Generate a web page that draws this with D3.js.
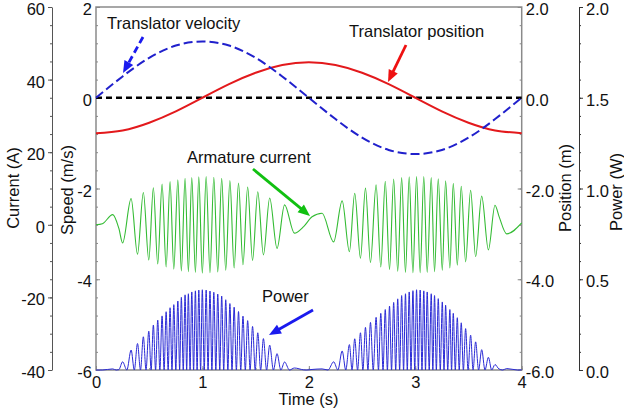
<!DOCTYPE html>
<html>
<head>
<meta charset="utf-8">
<script src="https://cdn.jsdelivr.net/npm/d3@7"></script>
<style>
  body { margin: 0; background: #fff; }
  svg text { font-family: "Liberation Sans", Arial, sans-serif; }
</style>
</head>
<body>
<div class="canvas"></div>
<script>
// ---- data ----
const timeTicks = [0, 1, 2, 3, 4];
const currentTicks = [-40, -20, 0, 20, 40, 60];
const speedTicks = [-6, -4, -2, 0, 2];
const positionTicks = [-6, -4, -2, 0, 2];
const powerTicks = [0, 0.5, 1.0, 1.5, 2.0];

// translator velocity (m/s) and position (m), sampled every 0.25 s
const motionTime = [0, 0.25, 0.5, 0.75, 1, 1.25, 1.5, 1.75, 2, 2.25, 2.5, 2.75, 3, 3.25, 3.5, 3.75, 4];
const velocity = [0, 0.47, 0.88, 1.15, 1.24, 1.15, 0.88, 0.47, 0, -0.47, -0.88, -1.15, -1.24, -1.15, -0.88, -0.47, 0];
const position = [-0.78, -0.72, -0.55, -0.30, 0, 0.30, 0.55, 0.72, 0.78, 0.72, 0.55, 0.30, 0, -0.30, -0.55, -0.72, -0.78];

// armature current (A): turning points of the oscillation
const currentTime = [
  0, 0.06, 0.157, 0.215, 0.25, 0.33, 0.39, 0.445, 0.496, 0.539, 0.58, 0.621, 0.659, 0.696, 0.731, 0.769,
  0.802, 0.837, 0.868, 0.9, 0.934, 0.966, 0.999, 1.035, 1.071, 1.107, 1.144, 1.181, 1.219, 1.258, 1.298,
  1.339, 1.381, 1.425, 1.471, 1.52, 1.573, 1.632, 1.701, 1.772, 1.864, 1.951, 2.03,
  2.124, 2.233, 2.313, 2.381, 2.431, 2.485, 2.532, 2.579, 2.632, 2.676, 2.718, 2.758, 2.797, 2.835, 2.872,
  2.908, 2.943, 2.978, 3.012, 3.046, 3.08, 3.112, 3.15, 3.181, 3.216, 3.254, 3.285, 3.325, 3.357, 3.395,
  3.432, 3.473, 3.52, 3.567, 3.624, 3.687, 3.749, 3.786, 3.859, 4.0
];
const currentValue = [
  0, 0.3, 2.8, -1.0, -5.0, 7.2, -8.1, 8.9, -9.7, 10.2, -10.8, 11.2, -11.6, 11.9, -12.2, 12.4,
  -12.7, 12.8, -12.9, 13.0, -13.1, 13.2, -13.3, 13.3, -13.2, 13.1, -13.0, 12.8, -12.5, 12.2, -11.9,
  11.5, -11.0, 10.4, -9.8, 9.1, -8.3, 7.4, -6.5, 5.5, -2.3, -0.5, 2.2,
  3.2, -4.7, 6.6, -7.4, 8.7, -9.2, 10.1, -10.4, 11.0, -11.6, 12.0, -12.3, 12.6, -12.8, 13.0,
  -13.1, 13.2, -13.2, 13.3, -13.2, 13.3, -13.1, 13.0, -12.9, 12.7, -12.5, 12.1, -11.9, 11.4, -11.1,
  10.6, -10.2, 9.5, -8.8, 7.9, -6.9, 5.4, 2.4, -2.5, 0.5
];

// power (W): peaks and zeros
const powerTime = [
  0, 0.06, 0.157, 0.19, 0.215, 0.25, 0.29, 0.33, 0.36, 0.39, 0.418, 0.445, 0.47, 0.496, 0.518, 0.539,
  0.56, 0.58, 0.6, 0.621, 0.64, 0.659, 0.678, 0.696, 0.714, 0.731, 0.75, 0.769, 0.786, 0.802, 0.82,
  0.837, 0.852, 0.868, 0.884, 0.9, 0.917, 0.934, 0.95, 0.966, 0.983, 0.999, 1.017, 1.035, 1.053, 1.071,
  1.089, 1.107, 1.126, 1.144, 1.163, 1.181, 1.2, 1.219, 1.239, 1.258, 1.278, 1.298, 1.319, 1.339, 1.36,
  1.381, 1.403, 1.425, 1.448, 1.471, 1.496, 1.52, 1.547, 1.573, 1.603, 1.632, 1.667, 1.701, 1.737, 1.772,
  1.818, 1.864, 1.951, 1.975, 2.03, 2.124, 2.18, 2.233, 2.273, 2.313, 2.347, 2.381, 2.406, 2.431, 2.458,
  2.485, 2.508, 2.532, 2.555, 2.579, 2.605, 2.632, 2.654, 2.676, 2.697, 2.718, 2.738, 2.758, 2.777, 2.797,
  2.816, 2.835, 2.853, 2.872, 2.89, 2.908, 2.925, 2.943, 2.96, 2.978, 2.995, 3.012, 3.029, 3.046, 3.063,
  3.08, 3.096, 3.112, 3.131, 3.15, 3.165, 3.181, 3.198, 3.216, 3.235, 3.254, 3.27, 3.285, 3.305, 3.325,
  3.341, 3.357, 3.376, 3.395, 3.413, 3.432, 3.452, 3.473, 3.496, 3.52, 3.543, 3.567, 3.595, 3.624, 3.655,
  3.687, 3.718, 3.749, 3.786, 3.822, 3.859, 3.96, 4.0
];
const powerValue = [
  0, 0, 0.006, 0, 0.002, 0.045, 0, 0.11, 0, 0.146, 0, 0.183, 0, 0.214, 0, 0.248,
  0, 0.275, 0, 0.298, 0, 0.321, 0, 0.343, 0, 0.36, 0, 0.38, 0, 0.4, 0,
  0.414, 0, 0.42, 0, 0.43, 0, 0.436, 0, 0.44, 0, 0.442, 0, 0.44, 0, 0.435,
  0, 0.428, 0, 0.418, 0, 0.407, 0, 0.387, 0, 0.366, 0, 0.346, 0, 0.322, 0,
  0.297, 0, 0.272, 0, 0.24, 0, 0.205, 0, 0.173, 0, 0.137, 0, 0.09, 0, 0.044,
  0, 0.011, 0.001, 0, 0.003, 0.006, 0, 0.045, 0, 0.105, 0, 0.14, 0, 0.172, 0,
  0.205, 0, 0.235, 0, 0.262, 0, 0.29, 0, 0.312, 0, 0.333, 0, 0.352, 0, 0.372,
  0, 0.392, 0, 0.41, 0, 0.42, 0, 0.43, 0, 0.437, 0, 0.442, 0, 0.44, 0,
  0.436, 0, 0.43, 0, 0.42, 0, 0.41, 0, 0.393, 0, 0.375, 0, 0.357, 0, 0.333,
  0, 0.312, 0, 0.288, 0, 0.26, 0, 0.228, 0, 0.192, 0, 0.155, 0, 0.112, 0,
  0.07, 0, 0.03, 0.006, 0, 0.008, 0, 0.001
];

// ---- svg & scales ----
const svg = d3.select('.canvas')
  .append('svg')
  .attr('width', 624)
  .attr('height', 416);

const plot = { left: 96, right: 521.7, top: 7, bottom: 370 };

const x = d3.scaleLinear().domain([0, 4]).range([plot.left, plot.right]);
const yCurrent = d3.scaleLinear().domain([-40, 60]).range([plot.bottom, plot.top]);
const ySpeed = d3.scaleLinear().domain([-6, 2]).range([plot.bottom, plot.top]);
const yPosition = d3.scaleLinear().domain([-6, 2]).range([plot.bottom, plot.top]);
const yPower = d3.scaleLinear().domain([0, 2]).range([plot.bottom, plot.top]);

const steps = (a, b, s) => d3.range(0, Math.round((b - a) / s) + 1).map(i => +(a + i * s).toFixed(3));

// helper: major + minor ticks for an axis
function drawAxis(axisFn, scale, major, minor, fmt, tx, ty, inner, lineColor) {
  const g = svg.append('g').attr('transform', `translate(${tx}, ${ty})`);
  const size = inner ? -4 : 4;
  g.append('g').call(axisFn(scale).tickValues(minor).tickSizeInner(inner ? -2 : 2).tickSizeOuter(0).tickFormat(''))
    .call(a => a.select('.domain').remove())
    .selectAll('line').attr('stroke', lineColor);
  const m = g.append('g').call(axisFn(scale).tickValues(major).tickSizeInner(size).tickSizeOuter(0)
    .tickPadding(inner ? 4 : 3).tickFormat(fmt));
  m.select('.domain').attr('stroke', lineColor).attr('stroke-width', 1);
  m.selectAll('line').attr('stroke', lineColor);
  m.selectAll('text').attr('font-size', 16.5).attr('fill', '#111').attr('dy', '0.46em');
  return m;
}

// plot frame
svg.append('rect')
  .attr('x', plot.left).attr('y', plot.top)
  .attr('width', plot.right - plot.left).attr('height', plot.bottom - plot.top)
  .attr('fill', 'none').attr('stroke', '#8a8a8a').attr('stroke-width', 1.5);

// axes
drawAxis(d3.axisLeft, yCurrent, currentTicks, steps(-40, 60, 5), d => String(d), 52, 0, false, '#555');
drawAxis(d3.axisLeft, ySpeed, speedTicks, steps(-6, 2, 0.4), d => String(d), plot.left, 0, true, '#888')
  .select('.domain').remove();
drawAxis(d3.axisRight, yPosition, positionTicks, steps(-6, 2, 0.4), d => d.toFixed(1), plot.right, 0, true, '#888')
  .select('.domain').remove();
drawAxis(d3.axisRight, yPower, powerTicks, steps(0, 2, 0.1), d => d.toFixed(1), 579, 0, false, '#333');
const xAx = drawAxis(d3.axisBottom, x, timeTicks, steps(0, 4, 0.5), d => String(d), 0, plot.bottom, true, '#888');
xAx.select('.domain').remove();
xAx.selectAll('text').attr('dy', '0.82em');

// axis titles
const titles = [
  { text: 'Current (A)', x: 19, y: 188, rot: true },
  { text: 'Speed (m/s)', x: 73, y: 190, rot: true },
  { text: 'Position (m)', x: 571, y: 188, rot: true },
  { text: 'Power (W)', x: 622, y: 192, rot: true },
  { text: 'Time (s)', x: 308.5, y: 405, rot: false }
];
svg.selectAll('.title').data(titles).enter().append('text')
  .attr('class', 'title')
  .attr('transform', d => d.rot ? `translate(${d.x}, ${d.y}) rotate(-90)` : `translate(${d.x}, ${d.y})`)
  .attr('text-anchor', 'middle')
  .attr('font-size', 16.5)
  .attr('fill', '#111')
  .text(d => d.text);

// ---- series ----
const powerData = powerTime.map((t, i) => [t, powerValue[i]]);
const currentData = currentTime.map((t, i) => [t, currentValue[i]]);
const velocityData = motionTime.map((t, i) => [t, velocity[i]]);
const positionData = motionTime.map((t, i) => [t, position[i]]);

svg.append('path').datum(powerData)
  .attr('fill', 'none').attr('stroke', '#2a2ad6').attr('stroke-width', 1)
  .attr('d', d3.line().x(d => x(d[0])).y(d => yPower(d[1])).curve(d3.curveMonotoneX));

svg.append('path').datum(currentData)
  .attr('fill', 'none').attr('stroke', '#33bb33').attr('stroke-width', 1.1)
  .attr('d', d3.line().x(d => x(d[0])).y(d => yCurrent(d[1])).curve(d3.curveMonotoneX));

// zero line
svg.append('line')
  .attr('x1', x(0)).attr('x2', x(4)).attr('y1', ySpeed(0)).attr('y2', ySpeed(0))
  .attr('stroke', '#000').attr('stroke-width', 2.5).attr('stroke-dasharray', '6,4');

svg.append('path').datum(positionData)
  .attr('fill', 'none').attr('stroke', '#e3191c').attr('stroke-width', 2)
  .attr('d', d3.line().x(d => x(d[0])).y(d => yPosition(d[1])).curve(d3.curveNatural));

svg.append('path').datum(velocityData)
  .attr('fill', 'none').attr('stroke', '#2020cc').attr('stroke-width', 2)
  .attr('stroke-dasharray', '9,4')
  .attr('d', d3.line().x(d => x(d[0])).y(d => ySpeed(d[1])).curve(d3.curveNatural));

// ---- annotations ----
const notes = [
  { text: 'Translator velocity', tx: 107, ty: 29, from: [143, 37], to: [123, 73], color: '#1a1aee', dash: '7,4' },
  { text: 'Translator position', tx: 349, ty: 37, from: [406, 45], to: [388, 82], color: '#ee1111', dash: null },
  { text: 'Armature current', tx: 187, ty: 163, from: [253, 169], to: [310, 216], color: '#11c011', dash: null },
  { text: 'Power', tx: 262, ty: 302, from: [313, 310], to: [269, 335], color: '#1a1aee', dash: null }
];

function arrowHead(n) {
  const [x1, y1] = n.from, [x2, y2] = n.to;
  const a = Math.atan2(y2 - y1, x2 - x1);
  const L = 12, W = 5;
  const bx = x2 - L * Math.cos(a), by = y2 - L * Math.sin(a);
  return [[x2, y2],
    [bx + W * Math.sin(a), by - W * Math.cos(a)],
    [bx - W * Math.sin(a), by + W * Math.cos(a)]];
}

const ng = svg.selectAll('.note').data(notes).enter().append('g').attr('class', 'note');
ng.append('text')
  .attr('x', d => d.tx).attr('y', d => d.ty)
  .attr('font-size', 16.5).attr('fill', '#111')
  .text(d => d.text);
ng.append('line')
  .attr('x1', d => d.from[0]).attr('y1', d => d.from[1])
  .attr('x2', d => d.to[0] - 8 * Math.cos(Math.atan2(d.to[1] - d.from[1], d.to[0] - d.from[0])))
  .attr('y2', d => d.to[1] - 8 * Math.sin(Math.atan2(d.to[1] - d.from[1], d.to[0] - d.from[0])))
  .attr('stroke', d => d.color).attr('stroke-width', 2.8)
  .attr('stroke-dasharray', d => d.dash);
ng.append('polygon')
  .attr('points', d => arrowHead(d).map(p => p.join(',')).join(' '))
  .attr('fill', d => d.color);
</script>
</body>
</html>
